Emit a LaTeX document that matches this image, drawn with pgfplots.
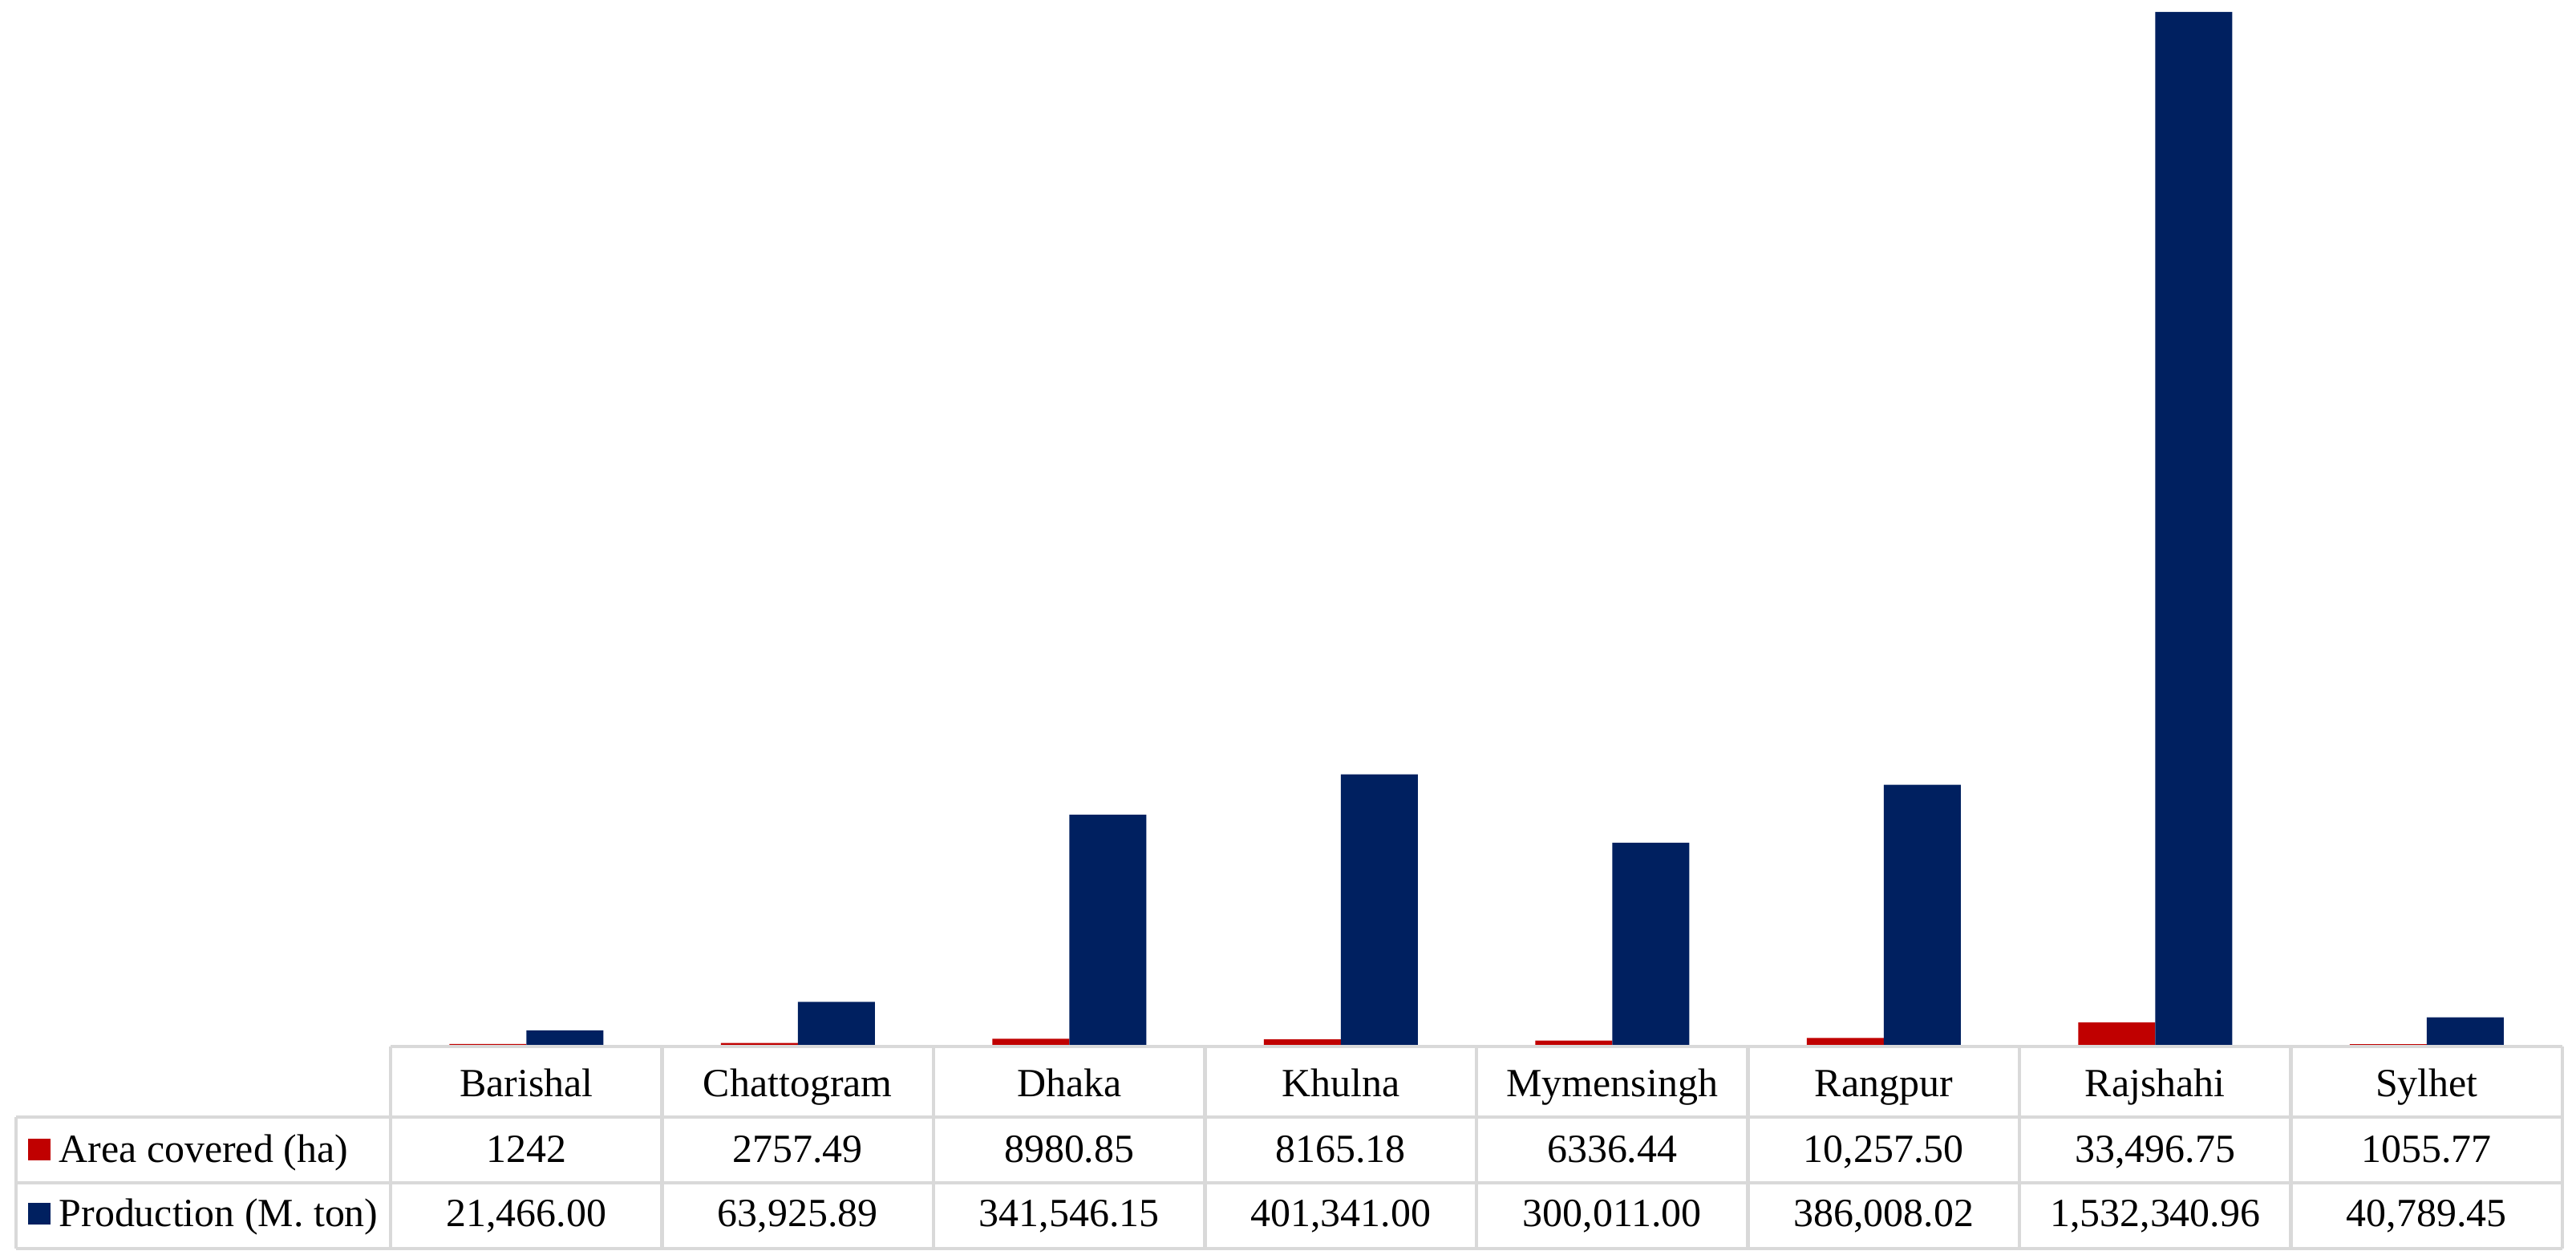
\documentclass[border=0pt]{standalone}
\usepackage{fontspec}
\setmainfont{Liberation Serif}
\usepackage{pgfplots}
\pgfplotsset{compat=1.18}
\definecolor{cred}{HTML}{C00000}
\definecolor{cblue}{HTML}{002060}
\definecolor{gridc}{HTML}{D9D9D9}
\begin{document}
\begin{tikzpicture}
\useasboundingbox (0,0) rectangle (32.12,15.69);
\begin{axis}[at={(4.87cm,2.66cm)}, anchor=south west,
  width=27.08cm, height=13.03cm, scale only axis, hide axis,
  xmin=-0.5, xmax=7.5, ymin=0, ymax=1550000,
  ybar, bar width=0.96cm, clip=false]
\addplot[fill=cred, draw=none, bar shift=-0.48cm] coordinates {
 (0,1242) (1,2757.49) (2,8980.85) (3,8165.18) (4,6336.44) (5,10257.50) (6,33496.75) (7,1055.77)};
\addplot[fill=cblue, draw=none, bar shift=0.48cm] coordinates {
 (0,21466.00) (1,63925.89) (2,341546.15) (3,401341.00) (4,300011.00) (5,386008.02) (6,1532340.96) (7,40789.45)};
\end{axis}
% data table
\begin{scope}[gridc, line width=0.045cm]
\draw (4.87,2.64) -- (31.95,2.64);
\draw (0.20,1.76) -- (31.95,1.76);
\draw (0.20,0.94) -- (31.95,0.94);
\draw (0.20,0.12) -- (31.95,0.12);
\draw (0.20,0.12) -- (0.20,1.76);
\foreach \i in {0,...,8} { \draw ({4.87+3.385*\i},0.12) -- ({4.87+3.385*\i},2.64); }
\end{scope}
\tikzset{cell/.style={font=\fontsize{14.2}{17}\selectfont, text height=9.4pt, text depth=0pt, inner sep=0pt}}
\foreach \n [count=\i from 0] in {Barishal,Chattogram,Dhaka,Khulna,Mymensingh,Rangpur,Rajshahi,Sylhet}
  { \node[cell] at ({6.5625+3.385*\i},2.18) {\n}; }
\foreach \n [count=\i from 0] in {1242,2757.49,8980.85,8165.18,6336.44,{10,257.50},{33,496.75},1055.77}
  { \node[cell] at ({6.5625+3.385*\i},1.36) {\n}; }
\foreach \n [count=\i from 0] in {{21,466.00},{63,925.89},{341,546.15},{401,341.00},{300,011.00},{386,008.02},{1,532,340.96},{40,789.45}}
  { \node[cell] at ({6.5625+3.385*\i},0.56) {\n}; }
\fill[cred] (0.35,1.225) rectangle (0.63,1.495);
\fill[cblue] (0.35,0.425) rectangle (0.63,0.695);
\node[cell, anchor=west] at (0.73,1.36) {Area covered (ha)};
\node[cell, anchor=west] at (0.73,0.56) {Production (M. ton)};
\end{tikzpicture}
\end{document}
